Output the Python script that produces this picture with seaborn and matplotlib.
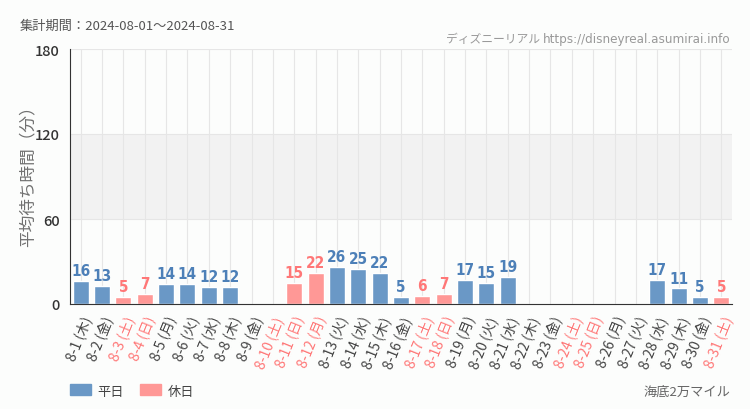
import numpy as np
import pandas as pd
import matplotlib
matplotlib.use("Agg")
import matplotlib.pyplot as plt
import matplotlib.patches as mpatches
import seaborn as sns

days = [f"8-{d}" for d in range(1, 32)]
weekdays = ["木", "金", "土", "日", "月", "火", "水", "木", "金", "土", "日", "月", "火", "水", "木", "金",
            "土", "日", "月", "火", "水", "木", "金", "土", "日", "月", "火", "水", "木", "金", "土"]
holidays = [3, 4, 10, 11, 12, 17, 18, 24, 25, 31]
values = [16, 13, 5, 7, 14, 14, 12, 12, np.nan, np.nan, 15, 22, 26, 25, 22, 5,
          6, 7, 17, 15, 19, np.nan, np.nan, np.nan, np.nan, np.nan, np.nan, 17, 11, 5, 5]
yticks = [0, 60, 120, 180]

BLUE = "#6a98c6"
PINK = "#ff9896"
BLUE_T = "#4d80b8"
PINK_T = "#ff7777"
BG = "#fcfdfc"

sns.set_style("white")
plt.rcParams["font.family"] = ["Noto Sans CJK JP", "DejaVu Sans"]

cond_kw = {"family": ["DejaVu Sans"], "stretch": "condensed"}

labels = [f"{d} ({w})" for d, w in zip(days, weekdays)]
kinds = ["休日" if i + 1 in holidays else "平日" for i in range(31)]
df = pd.DataFrame({"label": labels, "value": values, "kind": kinds})

fig = plt.figure(figsize=(7.5, 4.1), dpi=100, facecolor=BG)
ax = fig.add_axes([70 / 750, 1 - 305 / 410, 662 / 750, 255 / 410])
ax.set_facecolor(BG)

ax.axhspan(60, 120, color="#f2f2f2", zorder=0, lw=0)
for i in range(31):
    ax.axvline(i, color="#e6e6e6", lw=0.8, zorder=0.5)
for y in [60, 120, 180]:
    ax.axhline(y, color="#e6e6e6", lw=0.8, zorder=0.5)

sns.barplot(data=df, x="label", y="value", hue="kind", palette={"平日": BLUE, "休日": PINK},
            dodge=False, width=0.75, ax=ax, legend=False, zorder=2, saturation=1)

for i, v in enumerate(values):
    if not np.isnan(v):
        ax.text(i, v + 2, f"{int(v)}", ha="center", va="bottom", fontsize=11, fontweight="bold",
                color=PINK_T if kinds[i] == "休日" else BLUE_T, zorder=3, **cond_kw)

ax.set_ylim(0, 180)
ax.set_xlim(-0.5, 30.5)
ax.set_yticks(yticks)
ax.set_yticklabels([str(t) for t in yticks], fontsize=10.5, color="#333333", fontweight="medium")
ax.set_xlabel("")
ax.set_ylabel("平均待ち時間（分）", fontsize=12, color="#707070")
ax.yaxis.set_label_coords(-0.05, 0.52)
ax.set_xticks(range(31))
ax.set_xticklabels(labels, rotation=68, ha="right", rotation_mode="anchor", fontsize=10)
for t, k in zip(ax.get_xticklabels(), kinds):
    t.set_color(PINK_T if k == "休日" else "#444444")
ax.tick_params(axis="both", length=4, color="#333333", width=1, direction="out")
ax.tick_params(axis="x", pad=3)
for s in ["top", "right"]:
    ax.spines[s].set_visible(False)
ax.spines["left"].set_color("#333333")
ax.spines["bottom"].set_color("#333333")

fig.text(20 / 750, 1 - 26 / 410, "集計期間：2024-08-01～2024-08-31", fontsize=9.5, color="#555555", va="center")
url = fig.text(730 / 750, 1 - 39 / 410, "https://disneyreal.asumirai.info", fontsize=9.5,
               color="#999999", ha="right", va="center", **cond_kw)
jp = fig.text(0, 1 - 39 / 410, "ディズニーリアル ", fontsize=8.5, color="#999999", ha="right", va="center")
fig.canvas.draw()
bb = url.get_window_extent().transformed(fig.transFigure.inverted())
jp.set_position((bb.x0, 1 - 39 / 410))
fig.text(730 / 750, 1 - 392 / 410, "海底2万マイル", fontsize=9.5, color="#666666", ha="right", va="center")

handles = [mpatches.Patch(color=BLUE, label="平日"), mpatches.Patch(color=PINK, label="休日")]
fig.legend(handles=handles, loc="center left", bbox_to_anchor=(58 / 750, 1 - 392 / 410), ncol=2,
           frameon=False, fontsize=9.5, handlelength=1.6, handleheight=0.9, columnspacing=1.2,
           handletextpad=0.5, labelcolor="#444444")

fig.savefig("out.png", dpi=100, facecolor=BG)
